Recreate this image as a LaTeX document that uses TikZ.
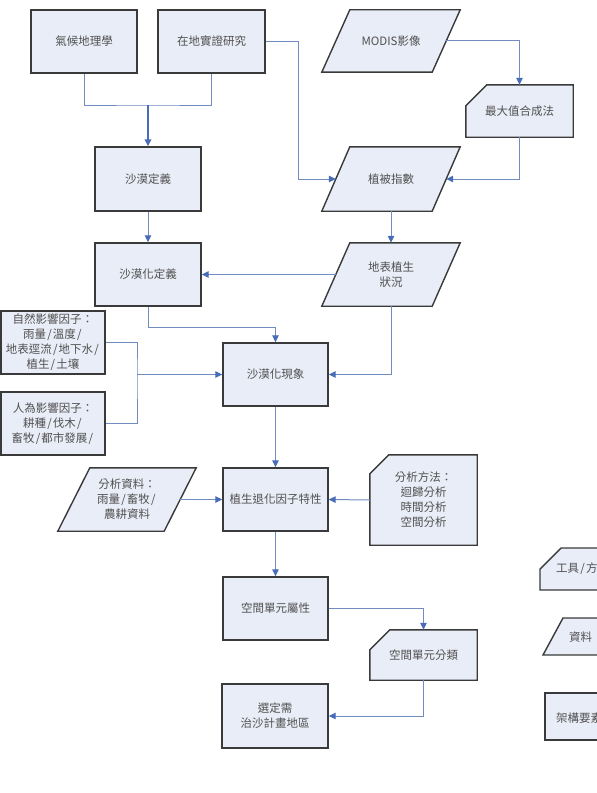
\documentclass[tikz,border=0pt]{standalone}
\usepackage{fontspec}
\newfontfamily\cjk{Noto Sans CJK TC}
\usetikzlibrary{arrows.meta,calc,backgrounds}
\definecolor{boxfill}{RGB}{233,237,247}
\definecolor{boxline}{RGB}{58,58,58}
\definecolor{connc}{RGB}{112,140,192}
\definecolor{tipc}{RGB}{72,108,182}
\definecolor{txt}{RGB}{80,80,80}
\newcommand\slsh{\kern1.2bp/\kern1.2bp}
\tikzset{
  base/.style={font=\cjk\fontsize{11.5bp}{15bp}\selectfont, text=txt, align=center, inner sep=0pt},
  wh/.style 2 args={minimum width=#1, minimum height=#2},
  rectbox/.style={base, draw=boxline, fill=boxfill, line width=1.4bp},
  plain/.style={base},
  shapeline/.style={draw=boxline, fill=boxfill, line width=1.4bp, line join=miter},
  conn/.style={draw=connc, line width=1bp},
  arr/.style={conn, -{Triangle[length=7bp,width=6.5bp,color=tipc]}},
  thickarr/.style={draw=tipc, line width=2bp, -{Triangle[length=7bp,width=6.5bp,color=tipc]}}
}
\newcommand\parashape[2]{%
  \begin{scope}[on background layer]
    \draw[shapeline] ($(#1.south west)+(-#2,0)$) -- ($(#1.south east)+(-#2,0)$) -- ($(#1.north east)+(#2,0)$) -- ($(#1.north west)+(#2,0)$) -- cycle;
  \end{scope}}
\newcommand\cutshape[2]{%
  \begin{scope}[on background layer]
    \draw[shapeline] (#1.south west) -- (#1.south east) -- (#1.north east) -- ($(#1.north west)+(#2,0)$) -- ($(#1.north west)+(0,#2)$) -- cycle;
  \end{scope}}
\begin{document}
\begin{tikzpicture}[x=1bp,y=-1bp]
\useasboundingbox (0,0) rectangle (597,793);

% top row
\node[rectbox, wh={106bp}{63bp}] (clim) at (84,41.5) {氣候地理學};
\node[rectbox, wh={107bp}{63bp}] (local) at (211.5,41.5) {在地實證研究};
\node[plain, wh={110bp}{62bp}] (modis) at (391,41) {MODIS影像};
\parashape{modis}{14}
\node[plain, wh={107bp}{52bp}] (maxc) at (519.5,111) {最大值合成法};
\cutshape{maxc}{21}

% second level
\node[rectbox, wh={106bp}{64bp}] (desdef) at (148,179) {沙漠定義};
\node[plain, wh={110bp}{64bp}] (ndvi) at (391,179) {植被指數};
\parashape{ndvi}{14}

\node[rectbox, wh={106bp}{63bp}] (dzdef) at (148,274.5) {沙漠化定義};
\node[plain, wh={110bp}{63bp}] (surf) at (391,274.5) {地表植生\\狀況};
\parashape{surf}{14}

% factors
\node[rectbox, wh={104bp}{63bp}] (nat) at (53,342.5) {自然影響因子：\\雨量\slsh 溫度\slsh\\地表逕流\slsh 地下水\slsh\\植生\slsh 土壤};
\node[rectbox, wh={104bp}{63bp}] (hum) at (53,423.5) {人為影響因子：\\耕種\slsh 伐木\slsh\\畜牧\slsh 都市發展\slsh};
\node[rectbox, wh={105bp}{63bp}] (dzph) at (275.5,374.5) {沙漠化現象};

% analysis
\node[plain, wh={106bp}{63bp}] (anadata) at (127,499.5) {分析資料：\\雨量\slsh 畜牧\slsh\\農耕資料};
\parashape{anadata}{16}
\node[rectbox, wh={105bp}{63bp}] (vegdeg) at (275.5,499.5) {植生退化因子特性};
\node[plain, wh={107bp}{90bp}] (anameth) at (423.5,500) {分析方法：\\迴歸分析\\時間分析\\空間分析};
\cutshape{anameth}{19}

\node[rectbox, wh={105bp}{63bp}] (spattr) at (275.5,608.5) {空間單元屬性};
\node[plain, wh={107bp}{50bp}] (spcls) at (423.5,655) {空間單元分類};
\cutshape{spcls}{20}
\node[rectbox, wh={106bp}{64bp}] (sel) at (275,716) {選定需\\治沙計畫地區};

% legend (cut off by the right edge, as in the reference)
\draw[shapeline] (540,590) -- (660,590) -- (660,548) -- (561,548) -- (540,569) -- cycle;
\node[base, anchor=west] (lgtool) at (556,569) {工具\slsh 方法};
\draw[shapeline] (543,655) -- (660,655) -- (670,618) -- (563,618) -- cycle;
\node[base, anchor=west] (lgdata) at (569,637) {資料};
\draw[shapeline] (545,740) -- (660,740) -- (660,693) -- (545,693) -- cycle;
\node[base, anchor=west] (lgarch) at (556,718) {架構要素};

% connectors
\coordinate (m1) at (148,105);
\draw[conn] (clim.south) |- (m1) -| (local.south);
\draw[thickarr] (m1) -- (desdef.north);
\draw[arr] (local.east) -- ++(33,0) |- (ndvi.west);
\draw[arr] (modis.east) -| (maxc.north);
\draw[arr] (maxc.south) |- (ndvi.east);
\draw[arr] (desdef.south) -- (dzdef.north);
\draw[arr] (ndvi.south) -- (surf.north);
\draw[arr] (surf.west) -- (dzdef.east);
\draw[arr] (dzdef.south) -- ++(0,21) -| (dzph.north);
\draw[arr] (surf.south) |- (dzph.east);
\coordinate (j1) at (137,374.5);
\draw[conn] (nat.east) -| (j1) |- (hum.east);
\draw[arr] (j1) -- (dzph.west);
\draw[arr] (dzph.south) -- (vegdeg.north);
\draw[arr] (anadata.east) -- (vegdeg.west);
\draw[arr] (anameth.west) -- (vegdeg.east);
\draw[arr] (vegdeg.south) -- (spattr.north);
\draw[arr] (spattr.east) -| (spcls.north);
\draw[arr] (spcls.south) |- (sel.east);
\end{tikzpicture}
\end{document}
